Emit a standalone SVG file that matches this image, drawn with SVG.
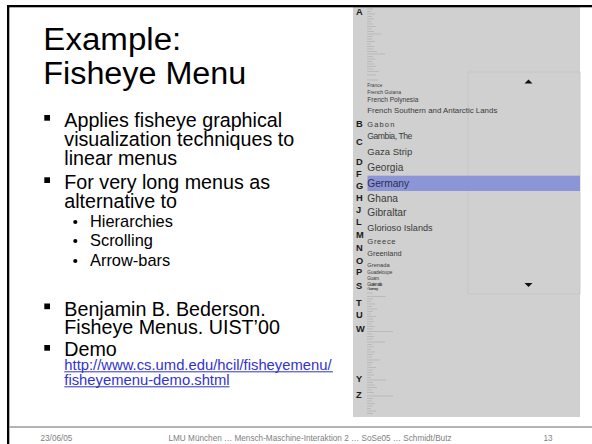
<svg xmlns="http://www.w3.org/2000/svg" width="592" height="444" viewBox="0 0 592 444">
<style>
text{font-family:"Liberation Sans",Arial,sans-serif}
.t{font-size:31px;fill:#000}
.b{font-size:19.7px;fill:#000}
.s{font-size:16.4px;fill:#000}
.u{font-size:14.8px;fill:#3333cc}
.f{font-size:8.2px;fill:#808080}
.L{font-size:9.3px;font-weight:bold;fill:#1a1a1a}
.m{fill:#3a3a3a}
.sq{fill:#000}
.ul{stroke:#3333cc;stroke-width:1}
.tiny{stroke:#b4b4b4;stroke-width:0.8;fill:none}
</style>
<rect width="592" height="444" fill="#fff"/>
<g id="menu-screenshot">
<rect x="353" y="7" width="227" height="410" fill="#d0d0d0"/>
<rect x="468" y="72" width="112" height="222" fill="none" stroke="#c4c4c4" stroke-width="0.8"/>
<path d="M524.5 83.5 L528.5 79.5 L532.5 83.5 Z" fill="#111"/>
<path d="M524.5 283 L528.5 287 L532.5 283 Z" fill="#111"/>
<rect x="367.5" y="175.7" width="212.5" height="15.3" fill="#8c95d6"/>
<path class="tiny" d="M367 9h6M367 11.5h4M367 14h8M367 16.5h5M367 19h7M367 21.5h4M367 24h6M367 26.5h9M367 29h5M367 31.5h7M367 34h14M367 36.5h6M367 39h5M367 41.5h8M367 44h4M367 46.5h7M367 49h6M367 51.5h10M367 54h18M367 56.5h6M367 59h8M367 61.5h5M367 64h7M367 66.5h9M367 69h6M367 71.5h12M367 75h9M367 80h11"/>
<path class="tiny" d="M367 293h6M367 296.5h19M367 299h6M367 301.5h4M367 304h8M367 306.5h5M367 309h10M367 311.5h6M367 314h4M367 316.5h9M367 319h6M367 321.5h7M367 324h5M367 326.5h8M367 329h6M367 331.5h26M367 334h5M367 336.5h7M367 339h6M367 342h18M367 344.5h5M367 347h7M367 349.5h4M367 352h8M367 354.5h6M367 357h5M367 360h13M367 362.5h6M367 365h4M367 367.5h9M367 370h6M367 372.5h5M367 375h7M367 377.5h4M367 380h19M367 382.5h6M367 385h8M367 387.5h10M367 390h5M367 392.5h7M367 396h26M367 398.5h6M367 401h5M367 403.5h8M367 406h6M367 408.5h4M367 411h9M367 413.5h6"/>
<g class="m">
<text x="367.3" y="87" font-size="4.8" textLength="15">France</text>
<text x="367.3" y="93.5" font-size="5.1" textLength="33.7">French Guiana</text>
<text x="367.3" y="101.7" font-size="6.6" textLength="51">French Polynesia</text>
<text x="367.3" y="113.3" font-size="7.85" textLength="130">French Southern and Antarctic Lands</text>
<text x="367.3" y="127" font-size="7.5" textLength="27">Gabon</text>
<text x="367.3" y="139.3" font-size="8.6" textLength="45">Gambia, The</text>
<text x="367.3" y="155" font-size="9.5" textLength="45">Gaza Strip</text>
<text x="367.3" y="170.7" font-size="10.1" textLength="36">Georgia</text>
<text x="367.3" y="186.7" font-size="10.2" textLength="41.7" fill="#2b2d55">Germany</text>
<text x="367.3" y="201.7" font-size="10.2" textLength="30.7">Ghana</text>
<text x="367.3" y="216" font-size="10.2" textLength="39">Gibraltar</text>
<text x="367.3" y="230.7" font-size="9.1" textLength="65.3">Glorioso Islands</text>
<text x="367.3" y="244.3" font-size="7.6" textLength="28.3">Greece</text>
<text x="367.3" y="256" font-size="7.35" textLength="34.3">Greenland</text>
<text x="367.3" y="266.7" font-size="5.7" textLength="22.3">Grenada</text>
<text x="367.3" y="274" font-size="4.7" textLength="25">Guadeloupe</text>
<text x="367.3" y="280" font-size="4.5" textLength="11.7">Guam</text>
<text x="367.3" y="286" font-size="4.5" textLength="15">Guatemala</text>
<text x="367.3" y="290" font-size="4" textLength="11">Guernsey</text>
</g>
<g class="L">
<text x="356" y="15">A</text>
<text x="356" y="126.5">B</text>
<text x="356" y="145">C</text>
<text x="356" y="165">D</text>
<text x="356" y="177">F</text>
<text x="356" y="188.5">G</text>
<text x="356" y="201">H</text>
<text x="356" y="213">J</text>
<text x="356" y="224.5">L</text>
<text x="356" y="237.5">M</text>
<text x="356" y="251">N</text>
<text x="356" y="263.5">O</text>
<text x="356" y="275">P</text>
<text x="356" y="288.5">S</text>
<text x="356" y="306">T</text>
<text x="356" y="318">U</text>
<text x="356" y="332">W</text>
<text x="356" y="382">Y</text>
<text x="356" y="397.5">Z</text>
</g>
</g>
<g id="frame">
<rect x="7" y="5" width="585" height="2.3" fill="#000"/>
<rect x="7" y="5" width="2.3" height="439" fill="#000"/>
<line x1="9" y1="427" x2="592" y2="427" stroke="#9a9a9a" stroke-width="1.5"/>
</g>
<g id="title">
<text class="t" x="43.3" y="50" textLength="138" lengthAdjust="spacingAndGlyphs">Example:</text>
<text class="t" x="43.3" y="83.5" textLength="203" lengthAdjust="spacingAndGlyphs">Fisheye Menu</text>
</g>
<g id="bullets">
<rect class="sq" x="44.3" y="115" width="5.7" height="5.7"/>
<text class="b" x="64.3" y="127">Applies fisheye graphical</text>
<text class="b" x="64.3" y="146">visualization techniques to</text>
<text class="b" x="64.3" y="165">linear menus</text>
<rect class="sq" x="44.3" y="177.3" width="5.7" height="5.7"/>
<text class="b" x="64.3" y="189">For very long menus as</text>
<text class="b" x="64.3" y="208">alternative to</text>
<circle cx="75.3" cy="222" r="2.1"/>
<text class="s" x="90" y="227">Hierarchies</text>
<circle cx="75.3" cy="241" r="2.1"/>
<text class="s" x="90" y="246">Scrolling</text>
<circle cx="75.3" cy="261" r="2.1"/>
<text class="s" x="90" y="266">Arrow-bars</text>
<rect class="sq" x="44.3" y="303.5" width="5.7" height="5.7"/>
<text class="b" x="64.3" y="315.5">Benjamin B. Bederson.</text>
<text class="b" x="64.3" y="333.5">Fisheye Menus. UIST’00</text>
<rect class="sq" x="44.3" y="345" width="5.7" height="5.7"/>
<text class="b" x="64.3" y="355.7">Demo</text>
<text class="u" x="64.3" y="370">http://www.cs.umd.edu/hcil/fisheyemenu/</text>
<line class="ul" x1="64.3" y1="371.8" x2="333" y2="371.8"/>
<text class="u" x="64.3" y="385">fisheyemenu-demo.shtml</text>
<line class="ul" x1="64.3" y1="386.8" x2="229.5" y2="386.8"/>
</g>
<g id="footer">
<text class="f" x="40.5" y="440.5">23/06/05</text>
<text class="f" x="168.5" y="440.5">LMU München … Mensch-Maschine-Interaktion 2 … SoSe05 … Schmidt/Butz</text>
<text class="f" x="543.5" y="440.5">13</text>
</g>
</svg>
